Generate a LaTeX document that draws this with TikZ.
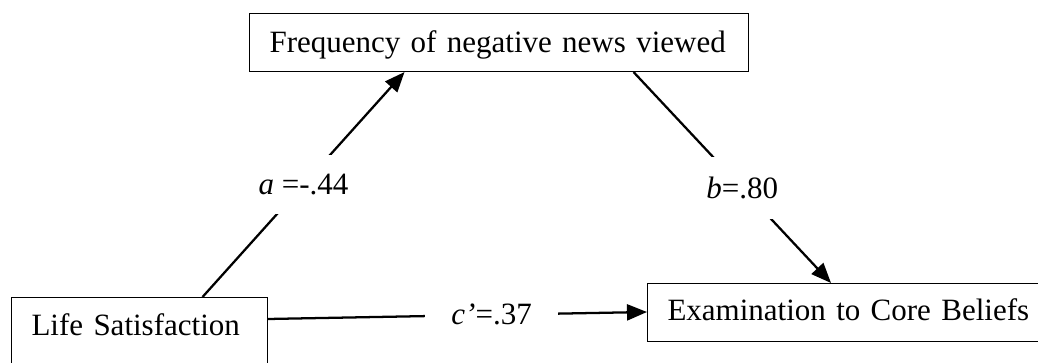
\documentclass[tikz,border=0pt]{standalone}
\usepackage{fontspec}
\setmainfont{Liberation Serif}
\usetikzlibrary{arrows.meta}
\begin{document}
\begin{tikzpicture}[x=0.75pt,y=0.75pt,
  font=\fontsize{23.25}{28}\selectfont,
  varbox/.style={draw, rectangle, line width=0.8pt, anchor=north west, align=left, inner xsep=15pt, inner ysep=0pt},
  link/.style={line width=1.7pt, -{Triangle[length=15pt,width=12pt]}},
  coef/.style={fill=white, inner xsep=4pt, inner ysep=14pt}]
\useasboundingbox (0,0) rectangle (1038,363);
\clip (0,0) rectangle (1038,363);
\node[varbox, text width=344.25pt, text height=29.25pt, text depth=14.25pt] (freq) at (249,350) {Frequency of negative news viewed};
\node[varbox, text width=162pt, text height=28.5pt, text depth=36pt] (life) at (11,66) {Life Satisfaction};
\node[varbox, text width=277.5pt, text height=27.75pt, text depth=15.75pt] (core) at (647,80) {Examination to Core Beliefs};
\draw[link] ([xshift=47.25pt]life.north) -- node[coef, pos=0.5] (alab) {\textit{a} =-.44} ([xshift=-70.9pt]freq.south);
\draw[link] ([xshift=100.9pt]freq.south) -- node[coef, pos=0.55, inner ysep=15pt] (blab) {\textit{b}=.80} ([xshift=138pt]core.north west);
\draw[link] ([yshift=-16.5pt]life.north east) -- node[coef, pos=0.59, inner xsep=20pt] (clab) {\textit{c’}=.37} ([yshift=-21.75pt]core.north west);
\end{tikzpicture}
\end{document}
